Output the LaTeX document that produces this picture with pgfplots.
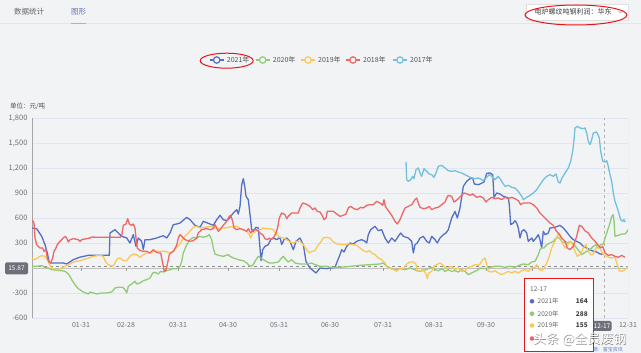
\documentclass[border=0pt]{standalone}
\usepackage{pgfplots}
\pgfplotsset{compat=1.18}
\usepackage{fontspec}
\setmainfont{Noto Sans CJK SC}
\definecolor{bgc}{HTML}{F2F3F5}
\definecolor{c21}{HTML}{5470C6}
\definecolor{c20}{HTML}{91CC75}
\definecolor{c19}{HTML}{FAC858}
\definecolor{c18}{HTML}{EE6666}
\definecolor{c17}{HTML}{73C0DE}
\definecolor{axt}{HTML}{6E7079}
\definecolor{gridc}{HTML}{E0E6F1}
\definecolor{legt}{HTML}{555555}
\definecolor{annot}{HTML}{E8141B}
\begin{document}
\begin{tikzpicture}
\begin{scope}[x=1pt,y=1pt]
\fill[bgc] (0,0) rectangle (641,353);
\useasboundingbox (0,0) rectangle (641,353);
% tabs
\draw[black!10] (0,330) -- (641,330);
\node[font=\fontsize{7.5}{8}\selectfont, text=black!60] at (29,341) {数据统计};
\node[font=\fontsize{7.5}{8}\selectfont, text={rgb,255:red,100;green,115;blue,175}] at (78.5,341) {图形};
\draw[black!30, line width=0.8pt] (71,330) -- (86,330);
% dropdown
\draw[black!12, fill=white] (526,333) rectangle (628,349);
\node[font=\fontsize{7}{8}\selectfont, text=black!75] at (573,341) {电炉螺纹吨钢利润：华东};
\draw[black!35, line width=0.5pt] (618,342.5) -- (620.5,340) -- (623,342.5);
\draw[annot, line width=1pt] (576,338) ellipse (51 and 10);
% legend
\foreach \xm/\c/\t in {216.7/c21/2021年, 262.7/c20/2020年, 308/c19/2019年, 353/c18/2018年, 400/c17/2017年}{
  \draw[\c, line width=1.2pt] (\xm-7,293) -- (\xm+7,293);
  \draw[\c, line width=1.2pt, fill=bgc] (\xm,293) circle (3.2);
  \node[anchor=west, font=\fontsize{7}{8}\selectfont, text=legt, inner sep=0] at (\xm+10,293) {\t};
}
\draw[annot, line width=1pt] (226.7,292.3) ellipse (26.5 and 7.5);
% unit
\node[anchor=west, font=\fontsize{6.5}{7}\selectfont, text=black!70, inner sep=0] at (10,246.5) {单位：元/吨};
\end{scope}

\begin{axis}[
  at={(32pt,35pt)}, anchor=south west,
  scale only axis, width=596pt, height=200pt,
  xmin=0, xmax=596, ymin=-600, ymax=1800,
  axis line style={draw=none},
  major tick length=0pt,
  ytick={-600,-300,...,1800},
  xtick={49,94,146,196,247,298,351,402,454,500,545,596},
  xticklabels={01-31,02-28,03-31,04-30,05-31,06-30,07-31,08-31,09-30,{},{},12-31},
  ymajorgrids, grid style={gridc, line width=0.6pt},
  yticklabel style={font=\fontsize{7.5}{8}\selectfont, text=axt, xshift=-1pt},
  xticklabel style={font=\fontsize{7}{8}\selectfont, text=axt, yshift=-1pt},
  scaled y ticks=false,
  /pgf/number format/.cd, 1000 sep={,}, assume math mode=true,
]
\draw[black!35, line width=0.6pt] (rel axis cs:0,0) -- (rel axis cs:0,1);
\draw[black!25, line width=0.8pt] (axis cs:0,0) -- (axis cs:596,0);
\draw[black!45, dashed, line width=0.8pt] (axis cs:0,15.87) -- (axis cs:596,15.87);
\pgfplotsinvokeforeach{49,94,146,196,247,298,351,402,454,500,545}{
  \draw[black!40, line width=0.6pt] (axis cs:#1,0) -- ([yshift=-3.5pt]axis cs:#1,0);
}
\draw[black!30, dashed, line width=0.6pt] (axis cs:572,-600) -- (axis cs:572,1800);
\draw[black!20, line width=2pt] (axis cs:596.5,-600) -- (axis cs:596.5,1800);

% 2021
\addplot[c21, line width=1.3pt, line join=round] coordinates {
(0,480)(4.7,470)(9.7,380)(13,280)(15.3,180)(17,80)(18,60)(31.3,60)(34.7,48)(41.3,100)
(48,130)(56.3,152)(64.7,152)(77.3,152)(78,420)(83,460)(86.3,420)(89.7,380)(94.7,360)(98,300)
(101.3,400)(104,260)(106.3,360)(109.7,320)(111.3,220)(113,340)(118,340)(124.7,360)(131.3,388)(134.7,360)
(138,420)(141.3,520)(144.7,528)(148,540)(154.7,608)(158,580)(163,512)(168,488)(171.3,560)(178,528)
(181.3,512)(184.7,580)(188,632)(191.3,580)(194.7,568)(198,608)(201.3,660)(204.7,700)(206.3,648)(208,740)
(209.7,1000)(211.3,1072)(213,960)(214,860)(216.3,820)(218,640)(219.7,460)(221.3,440)(224,488)(226.3,480)
(228,240)(229,88)(230.7,220)(233,260)(236.3,280)(238.7,340)(241.3,360)(244.7,340)(248,368)(249.7,280)
(252,340)(254.7,360)(258,320)(261.3,220)(264,320)(268,360)(271.3,280)(274,80)(278,0)(284,-60)
(288,0)(294.7,-8)(298,0)(303,8)(305.3,80)(308,160)(309.7,220)(312,192)(314.7,260)(318,300)
(321.3,288)(324.7,320)(329.7,340)(333,320)(334.7,300)(336.3,400)(338.7,460)(343,500)(346.3,448)(349.7,460)
(353,360)(356.3,300)(359.7,360)(363,320)(366.3,380)(368.7,420)(371.3,380)(376.3,360)(379.7,320)(381.3,180)
(383,280)(385.3,300)(388,360)(391.3,380)(394.7,320)(397.3,300)(399.7,380)(403,340)(405.3,300)(408,360)
(411.3,400)(414,420)(416.3,460)(419.7,600)(423,680)(425.3,600)(428,720)(431.3,980)(434.7,1040)(438,1072)
(440.7,1080)(442.3,1008)(446.3,1000)(448,1008)(452,1032)(454.7,1136)(458,1140)(460.7,1120)(461.3,1000)(462,848)
(464.7,900)(468,888)(471.3,860)(474.7,848)(476.3,840)(477.3,760)(478.7,520)(481.3,540)(483,568)(484.7,540)
(486.3,480)(488,360)(489.7,440)(492,460)(494.7,420)(496.3,320)(499.7,360)(501.3,320)(504,360)(506.3,400)
(508,340)(509.7,240)(511.3,440)(513,400)(516.3,420)(518,480)(523,488)(528,512)(531.3,480)(534.7,432)
(538,380)(541.3,340)(544.7,320)(548,300)(551.3,260)(554.7,240)(559.7,208)(564.7,192)(568,168)(571.3,164)
};
% 2020
\addplot[c20, line width=1.3pt, line join=round] coordinates {
(0,20)(4.7,20)(9.7,28)(13,8)(16.3,0)(19.7,-20)(24.7,-28)(29.7,-32)(33,-40)(35.3,-60)
(37.3,-88)(39.7,-140)(43,-200)(46.3,-248)(51.3,-288)(56.3,-312)(58,-288)(61.3,-300)(64.7,-312)(69.7,-300)
(74.7,-300)(79.7,-288)(83,-240)(86.3,-232)(90.7,-232)(93,-260)(94.7,-300)(96.3,-220)(99.7,-192)(103,-160)
(104.7,-192)(108,-180)(111.3,-152)(114.7,-140)(118,-120)(120.7,-60)(123,-52)(126.3,-72)(128.7,-40)(131.3,-48)
(134.7,-32)(138,-20)(141.3,-8)(144.7,-8)(148,20)(149.7,80)(151.3,180)(154.7,280)(158,340)(161.3,368)
(164.7,360)(168,380)(171.3,368)(174.7,380)(177.3,400)(179.7,340)(181.3,240)(183,168)(186.3,152)(191.3,140)
(196.3,160)(198,140)(201.3,120)(206.3,100)(211.3,88)(214.7,60)(218,20)(220.7,32)(224,100)(226.3,140)
(229.7,112)(233,88)(237.3,60)(241.3,60)(246.3,72)(249.7,120)(251.3,140)(254,100)(256.3,72)(259.7,100)
(263,60)(268,48)(274.7,48)(279.7,60)(283,40)(288,20)(294.7,20)(298,8)(308,8)(318,20)
(328,32)(338,40)(348,48)(351.3,60)(354.7,20)(358,0)(363,-20)(368,-8)(373,-20)(378,0)
(383,-20)(386.3,-40)(391.3,-32)(396.3,-8)(399.7,8)(403,-20)(406.3,-32)(409.7,-8)(413,-40)(416.3,-20)
(419.7,-40)(423,-32)(426.3,-48)(429.7,-20)(433,-40)(436.3,-80)(439.7,-60)(443,-40)(446.3,-20)(448,0)
(453,-8)(458,8)(463,20)(468,20)(473,8)(478,20)(483,8)(487.3,32)(491.3,48)(496.3,40)
(499.7,72)(503,80)(504.7,120)(506.3,160)(508,220)(509.7,240)(512,240)(514.7,280)(518,300)(521.3,320)
(524,360)(526.3,368)(528.7,340)(530.7,300)(533,320)(535.3,300)(538,320)(541.3,288)(544.7,240)(547.3,200)
(549.7,160)(552,180)(554.7,200)(558,220)(561.3,260)(564,280)(566.3,240)(568.7,280)(571.3,288)(573,360)
(575.3,440)(578,540)(579.7,620)(581.3,640)(582.3,520)(583,380)(586.3,392)(589.7,408)(593,408)(594.7,432)
(596,460)
};
% 2019
\addplot[c19, line width=1.3pt, line join=round] coordinates {
(0,112)(3,100)(6.3,128)(9.7,148)(13,140)(15.3,100)(17.3,48)(19.7,0)(23,-20)(26.3,-20)
(29.7,0)(33,20)(36.3,40)(41.3,72)(48,88)(54.7,112)(61.3,140)(68,152)(71.3,140)(73,88)
(75.3,48)(78,32)(80.7,20)(83,60)(85.3,112)(88,120)(91.3,88)(94.7,88)(98,140)(101.3,168)
(104.7,160)(108,128)(111.3,160)(114.7,180)(118,180)(123,200)(128,200)(133,200)(138,180)(141.3,200)
(144.7,248)(148,288)(151.3,360)(156.3,420)(161.3,488)(164.7,500)(168,480)(173,488)(178,500)(183,480)
(186.3,472)(189.7,480)(193,480)(196.3,488)(201.3,500)(205.3,500)(208,472)(211.3,460)(214.7,440)(217.3,400)
(218.7,360)(220.7,420)(223,432)(225.3,460)(228,460)(231.3,480)(234.7,472)(238,472)(241.3,460)(244.7,400)
(248,368)(251.3,360)(254.7,340)(258,312)(261.3,300)(264.7,320)(268,320)(271.3,280)(274.7,220)(277.3,180)
(279.7,200)(283,208)(285.3,260)(288,300)(291.3,360)(294.7,368)(298,360)(300.7,320)(303,300)(306.3,288)
(311.3,280)(316.3,288)(321.3,280)(324.7,272)(328,240)(331.3,208)(334.7,192)(337.3,208)(339.7,180)(343,160)
(346.3,120)(349.7,100)(353,60)(355.3,8)(358.7,-8)(362,-20)(364.7,-40)(368,0)(371.3,-8)(374.7,48)
(378,72)(381.3,72)(384,48)(385.3,-40)(388,-32)(391.3,-20)(394,-72)(395.3,-128)(396.7,-60)(399.7,-40)
(402,20)(404.7,40)(408,60)(411.3,32)(414,-8)(416.3,8)(419.7,20)(423,-20)(426.3,0)(429.7,-40)
(433,-32)(436.3,8)(439.7,20)(443,40)(446.3,32)(448,48)(450.7,100)(453,120)(454.7,40)(456.3,-40)
(459.7,-48)(463,-32)(466.3,-60)(469.7,-80)(473,-60)(476.3,-40)(479.7,-60)(483,-40)(486.3,-60)(489.7,-32)
(493,-20)(496.3,-40)(499.7,0)(503,8)(504.7,40)(507.3,-20)(509.7,-32)(512,0)(514.7,60)(517.3,140)
(519.7,240)(522,300)(524.7,360)(526.3,420)(528,400)(529.7,320)(531.3,280)(533,240)(534.7,260)(538,320)
(540.7,280)(543,200)(545.3,140)(548,160)(551.3,240)(554,280)(556.3,200)(558.7,160)(561.3,168)(564,240)
(566.3,260)(568.7,220)(571.3,160)(574.7,140)(578.7,120)(583,128)(585.3,40)(587.3,-32)(589.7,-40)(593,-20)
(595.3,8)(596,20)
};
% 2018
\addplot[c18, line width=1.3pt, line join=round] coordinates {
(0,580)(2,540)(3,360)(4.7,280)(8,240)(10.7,240)(12,200)(14,220)(15.3,120)(17,72)
(18.7,60)(20.7,120)(22,200)(24,240)(25.3,280)(28,320)(29.7,340)(31.3,360)(33,380)(34.7,360)
(36.3,312)(38,340)(41.3,352)(46.3,340)(48,320)(49.7,340)(54.7,352)(58,360)(59.7,372)(64.7,368)
(88,368)(89.7,388)(91.3,512)(94,528)(95.7,592)(97.3,528)(99.7,512)(101.3,528)(103,480)(104,360)
(105.3,240)(108,208)(111.3,200)(114.7,200)(118,180)(121.3,220)(124,192)(126.3,180)(128.7,180)(129.7,120)
(131.3,20)(132.3,-40)(134,-20)(135.3,40)(137.3,160)(138.7,180)(141.3,200)(144.7,272)(146.3,360)(148,400)
(153,340)(158,320)(161.3,328)(164.7,360)(166.3,420)(169.7,460)(174.7,472)(178,460)(181.3,472)(183,520)
(184.7,480)(186.3,440)(188,460)(191.3,512)(194.7,560)(197.3,620)(198.7,632)(200.7,560)(202,480)(204.7,460)
(208,472)(211.3,460)(214.7,440)(216.3,472)(218.7,420)(221.3,460)(224,460)(226.3,440)(228,420)(230.7,400)
(233,352)(235.3,340)(237.3,360)(238.7,340)(241.3,360)(244,420)(245.7,488)(247.3,600)(249.7,660)(253,640)
(254.7,592)(256.3,620)(259.7,660)(263,660)(266.3,660)(268,720)(270.7,780)(274,768)(278,740)(280.7,700)
(283,720)(285.3,680)(288,672)(290.7,620)(292,580)(294,600)(295.3,680)(298,680)(301.3,680)(304.7,648)
(308,620)(311.3,632)(314,648)(316.3,720)(318.7,740)(322,712)(325.3,700)(328.7,728)(331.3,720)(334.7,752)
(338,760)(341.3,760)(344.7,800)(348,780)(350.7,752)(352,820)(353.3,740)(356.3,688)(359.7,632)(363,560)
(365.3,528)(368,580)(370.7,660)(373,720)(376.3,740)(379.7,760)(383,820)(384.7,840)(386.3,780)(388,728)
(391.3,712)(394.7,720)(397.3,740)(399.7,700)(403,720)(406.3,728)(409.7,760)(413,792)(414.7,840)(416.3,872)
(419.7,860)(422,792)(424,808)(426.3,832)(429.7,872)(432,900)(435.3,888)(438,872)(440.7,888)(444.7,848)
(448,860)(451.3,840)(454,792)(456.3,820)(459.7,848)(463,832)(466.3,840)(469.7,820)(473,848)(476.3,832)
(479.7,848)(483,832)(486.3,808)(488.7,760)(491.3,780)(494.7,780)(498,780)(501.3,760)(504.7,720)(508,660)
(511.3,620)(514.7,580)(518,540)(521.3,512)(524,448)(526.3,420)(529.7,360)(533,320)(535.3,240)(538,220)
(541.3,260)(544.7,380)(547.3,512)(549.7,500)(553,448)(556.3,420)(559.7,360)(563,320)(566.3,272)(568.7,240)
(570.7,260)(573,180)(576.3,152)(579.7,160)(583,140)(586.3,128)(589.7,152)(593,128)
};
% 2017
\addplot[c17, line width=1.3pt, line join=round] coordinates {
(374,1272)(374.7,1060)(376.3,1040)(378.7,1060)(380.7,1100)(382,1072)(384,1180)(386.3,1200)(388,1140)(389.7,1100)
(392,1192)(394.7,1160)(397.3,1128)(399.7,1120)(402,1088)(404,1140)(406.3,1220)(409.7,1232)(413,1200)(416.3,1168)
(419.7,1160)(423,1168)(426.3,1152)(429.7,1140)(433,1120)(436.3,1100)(439.7,1080)(443,1072)(446.3,1080)(448,1072)
(451.3,1048)(454,1080)(457.3,1120)(459.7,1100)(463,1060)(466.3,1100)(468.7,1060)(470.7,1020)(473,980)(476.3,992)
(479.7,968)(483,960)(486.3,920)(489.7,860)(491.3,820)(494.7,848)(498,872)(501.3,900)(504.7,940)(508,1000)
(511.3,1060)(514.7,1100)(518,1120)(521.3,1100)(524,1128)(526.3,1032)(528,1020)(529.7,1072)(533,1140)(536.3,1200)
(538.7,1280)(540.7,1400)(542,1540)(543,1680)(545.3,1700)(548,1680)(551.3,1672)(553,1680)(554.7,1620)(556.3,1520)
(558,1480)(559.7,1540)(561.3,1620)(564.7,1632)(567.3,1560)(568.7,1400)(570.7,1280)(573,1272)(574.7,1288)(576.3,1220)
(578,1120)(579.7,1040)(581.3,900)(583,800)(585.3,720)(587.3,640)(588.7,580)(590.7,560)(592,580)(593.3,552)
};
\end{axis}

\begin{scope}[x=1pt,y=1pt]
% 15.87 label
\node[fill=axt, text=white, rounded corners=1.5pt, font=\fontsize{6.5}{7}\selectfont, inner sep=1.5pt, minimum width=23pt, minimum height=12pt] at (16.5,84.5) {15.87};
% axis pointer label
\node[fill=axt, text=white, rounded corners=1.5pt, font=\fontsize{6.5}{7}\selectfont, inner sep=1.2pt, minimum height=10pt] at (602,27) {12-17};
% source
\node[anchor=east, font=\fontsize{5}{6}\selectfont, text={rgb,255:red,95;green,130;blue,200}, inner sep=0] at (623,3.5) {数据来源：富宝资讯};
% tooltip
\fill[white] (524.5,1) rectangle (592.5,74);
\node[anchor=west, font=\fontsize{6.5}{7}\selectfont, text=black!60, inner sep=0] at (530,64) {12-17};
\foreach \yy/\c/\t/\v in {51.7/c21/2021年/164, 39.3/c20/2020年/288, 27.5/c19/2019年/155}{
  \fill[\c] (532,\yy) circle (2.3);
  \node[anchor=west, font=\fontsize{6.5}{7}\selectfont, text=black!60, inner sep=0] at (537.5,\yy) {\t};
  \node[anchor=east, font=\fontsize{6.5}{7}\selectfont\bfseries, text=black!75, inner sep=0] at (588,\yy) {\v};
}
\fill[c18] (532,14.5) circle (2.3);
\draw[annot, line width=1pt] (524,1) rectangle (593,74);
% watermark
\node[font=\fontsize{13}{14}\selectfont, text=black, opacity=0.45, inner sep=0] at (580.6,13.4) {头条 @全员废钢};
\node[font=\fontsize{13}{14}\selectfont, text=white, inner sep=0] at (580,14) {头条 @全员废钢};
\end{scope}
\end{tikzpicture}
\end{document}
